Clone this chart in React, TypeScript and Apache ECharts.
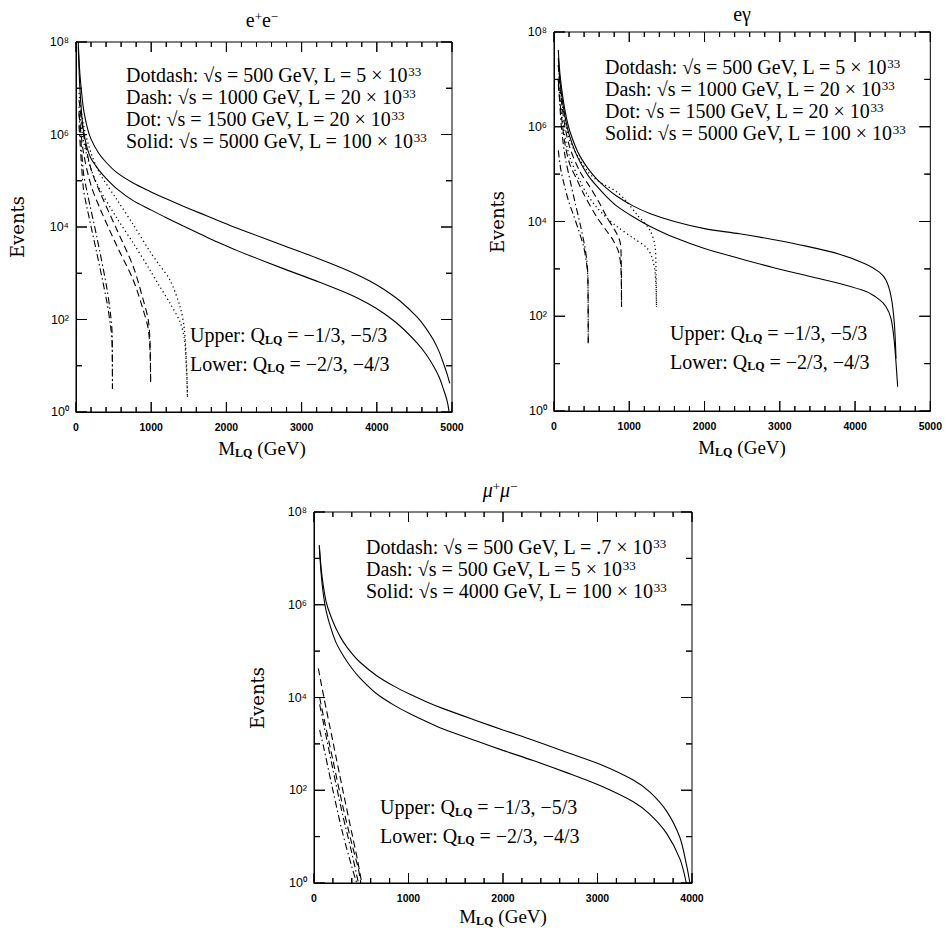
import React, { useEffect, useRef } from 'react';
import * as echarts from 'echarts';

type Pt = [number, number];

// Axis ranges (M_LQ in GeV; Events shown as log10 exponent)
const eeXMax = 5000;
const egXMax = 5000;
const mmXMax = 4000;
const xStep = 1000;
const xMinorStep = 200;
const yExpMax = 8;
const yExpStep = 2;
const yMinorStep = 1;
const SUP = ['\u2070', '\u00b9', '\u00b2', '\u00b3', '\u2074', '\u2075', '\u2076', '\u2077', '\u2078'];

// ---------- e+e- panel : [M_LQ (GeV), log10(Events)] ----------
const eeSolidUpper: Pt[] = [[30,8.0],[50,7.35],[75,6.9],[100,6.55],[150,6.15],[200,5.9],[300,5.6],[400,5.4],[540,5.18],[760,4.95],[984,4.77],[1200,4.61],[1427,4.45],[1650,4.3],[1871,4.15],[2100,4.0],[2314,3.87],[2757,3.6],[3201,3.33],[3644,3.04],[3900,2.84],[4087,2.66],[4309,2.4],[4531,2.06],[4650,1.82],[4752,1.56],[4830,1.3],[4885,1.06],[4935,0.82],[4970,0.62]];
const eeSolidLower: Pt[] = [[30,7.9],[50,7.05],[75,6.45],[100,6.08],[150,5.7],[200,5.48],[300,5.24],[400,5.05],[540,4.83],[760,4.57],[984,4.38],[1200,4.2],[1427,4.02],[1650,3.85],[1871,3.68],[2100,3.52],[2314,3.38],[2757,3.1],[3201,2.83],[3644,2.54],[3900,2.33],[4087,2.14],[4309,1.86],[4531,1.5],[4650,1.26],[4752,1.0],[4830,0.75],[4885,0.5],[4935,0.24],[4960,0.02]];
const eeDotUpper: Pt[] = [[40,6.9],[100,6.2],[200,5.6],[319,5.15],[541,4.6],[762,4.05],[984,3.47],[1100,3.2],[1250,2.85],[1383,2.28],[1440,1.8],[1470,1.0],[1482,0.33]];
const eeDotLower: Pt[] = [[40,6.6],[100,5.85],[200,5.25],[319,4.8],[541,4.2],[762,3.65],[984,3.07],[1100,2.75],[1250,2.35],[1383,1.95],[1440,1.6],[1470,0.9],[1482,0.33]];
const eeDashUpper: Pt[] = [[40,6.75],[100,6.0],[200,5.25],[319,4.75],[541,3.95],[762,3.14],[895,2.42],[960,2.0],[985,1.5],[992,0.65]];
const eeDashLower: Pt[] = [[40,6.45],[100,5.6],[200,4.9],[319,4.4],[541,3.6],[762,2.85],[895,2.2],[960,1.8],[985,1.3],[992,0.65]];
const eeDotdashUpper: Pt[] = [[40,6.5],[97,5.2],[142,4.8],[275,3.8],[408,2.7],[460,2.1],[480,1.7],[485,0.5]];
const eeDotdashLower: Pt[] = [[40,6.2],[97,4.85],[142,4.45],[275,3.45],[408,2.4],[460,1.85],[480,1.5],[485,0.5]];

// ---------- e gamma panel ----------
const egSolidUpper: Pt[] = [[57,7.62],[80,7.1],[124,6.55],[170,6.15],[212,5.9],[280,5.6],[345,5.38],[450,5.12],[566,4.9],[700,4.7],[831,4.54],[1050,4.33],[1273,4.17],[1600,4.0],[2000,3.85],[2466,3.74],[2908,3.62],[3351,3.48],[3793,3.31],[4147,3.1],[4323,2.93],[4412,2.76],[4478,2.42],[4522,1.85],[4544,1.11]];
const egSolidLower: Pt[] = [[57,7.45],[80,6.95],[124,6.42],[170,6.03],[212,5.78],[280,5.48],[345,5.26],[450,4.98],[566,4.75],[700,4.52],[831,4.33],[1050,4.1],[1273,3.9],[1600,3.66],[2000,3.43],[2466,3.22],[2908,3.03],[3351,2.86],[3793,2.69],[4147,2.52],[4323,2.35],[4412,2.2],[4478,1.95],[4522,1.45],[4566,0.51]];
const egDotUpper: Pt[] = [[57,7.3],[100,6.6],[150,6.1],[212,5.7],[345,5.3],[450,5.05],[566,4.88],[700,4.75],[831,4.63],[950,4.45],[1100,4.15],[1273,3.82],[1340,3.5],[1355,3.0],[1362,2.2]];
const egDotLower: Pt[] = [[57,7.0],[100,6.3],[150,5.75],[212,5.35],[345,4.85],[450,4.55],[566,4.3],[700,4.08],[831,3.9],[1052,3.65],[1229,3.45],[1300,3.25],[1345,2.9],[1362,2.2]];
const egDashUpper: Pt[] = [[57,7.3],[80,6.8],[110,6.4],[146,6.0],[212,5.55],[345,5.05],[477,4.73],[600,4.4],[699,4.1],[831,3.75],[880,3.55],[893,3.2],[897,2.2]];
const egDashLower: Pt[] = [[57,6.9],[100,6.2],[150,5.6],[212,5.2],[300,4.9],[389,4.6],[566,4.1],[700,3.8],[787,3.6],[860,3.35],[890,3.0],[897,2.2]];
const egDotdashUpper: Pt[] = [[57,7.0],[80,6.4],[102,5.93],[150,5.35],[212,4.88],[280,4.4],[345,3.96],[400,3.55],[434,3.2],[450,2.85],[455,1.43]];
const egDotdashLower: Pt[] = [[57,5.5],[90,5.1],[124,4.85],[190,4.45],[256,4.15],[320,3.85],[389,3.5],[430,3.15],[450,2.8],[455,1.43]];

// ---------- mu+ mu- panel ----------
const mmSolidUpper: Pt[] = [[56,7.29],[75,6.8],[99,6.4],[130,6.05],[169,5.8],[230,5.5],[310,5.2],[400,4.95],[487,4.76],[663,4.47],[850,4.24],[1016,4.07],[1200,3.9],[1368,3.76],[1721,3.5],[2000,3.3],[2320,3.08],[2673,2.82],[3026,2.56],[3378,2.22],[3555,1.96],[3731,1.55],[3872,0.98],[3943,0.38],[3978,0.0]];
const mmSolidLower: Pt[] = [[56,7.25],[75,6.68],[99,6.22],[130,5.85],[169,5.56],[230,5.2],[310,4.9],[400,4.63],[487,4.42],[663,4.08],[850,3.83],[1016,3.65],[1200,3.47],[1368,3.32],[1721,3.06],[2000,2.86],[2320,2.64],[2673,2.38],[3026,2.1],[3378,1.75],[3555,1.48],[3731,1.07],[3872,0.52],[3940,0.0]];
const mmDashUpper: Pt[] = [[46,4.63],[100,4.05],[200,3.05],[300,2.05],[400,1.08],[460,0.5],[505,0.0]];
const mmDashLower: Pt[] = [[60,4.0],[100,3.6],[200,2.65],[300,1.7],[400,0.85],[470,0.3],[495,0.0]];
const mmDotdashUpper: Pt[] = [[60,3.85],[100,3.45],[200,2.45],[300,1.5],[400,0.65],[470,0.0]];
const mmDotdashLower: Pt[] = [[60,3.3],[100,2.95],[200,2.0],[300,1.1],[400,0.35],[452,0.0]];

// ---------- texts ----------
const eeTitle = '{n|e}{p|+}{n|e}{p|\u2212}';
const egTitle = '{n|e\u03b3}';
const mmTitle = '{i|\u03bc}{p|+}{i|\u03bc}{p|\u2212}';
const eeLegend = [
  'Dotdash: \u221as = 500 GeV, L = 5 \u00d7 10{p|33}',
  'Dash: \u221as = 1000 GeV, L = 20 \u00d7 10{p|33}',
  'Dot: \u221as = 1500 GeV, L = 20 \u00d7 10{p|33}',
  'Solid: \u221as = 5000 GeV, L = 100 \u00d7 10{p|33}',
];
const egLegend = eeLegend;
const mmLegend = [
  'Dotdash: \u221as = 500 GeV, L = .7 \u00d7 10{p|33}',
  'Dash: \u221as = 500 GeV, L = 5 \u00d7 10{p|33}',
  'Solid: \u221as = 4000 GeV, L = 100 \u00d7 10{p|33}',
];
const chargeNotes = [
  'Upper: Q{q|LQ}{r|= \u22121/3, \u22125/3}',
  'Lower: Q{q|LQ}{r|= \u22122/3, \u22124/3}',
];
const xName = '{m|M}{q|LQ}{g|(GeV)}';
const yName = 'Events';

const SERIF = 'Liberation Serif, Times New Roman, serif';
const SANS = 'Liberation Sans, Arial, sans-serif';

const rich: any = {
  n: { fontFamily: SERIF, fontSize: 20, lineHeight: 21 },
  i: { fontFamily: SERIF, fontSize: 20, lineHeight: 21, fontStyle: 'italic' },
  p: { fontFamily: SERIF, fontSize: 13, lineHeight: 10, verticalAlign: 'top' },
  q: { fontFamily: SERIF, fontSize: 12, fontWeight: 'bold', lineHeight: 9, verticalAlign: 'bottom' },
  r: { fontFamily: SERIF, fontSize: 20, lineHeight: 21, padding: [0, 0, 0, 5] },
  m: { fontFamily: SERIF, fontSize: 19, lineHeight: 21 },
  g: { fontFamily: SERIF, fontSize: 19, lineHeight: 21, padding: [0, 0, 0, 5] },
};

const DASH: Record<string, any> = {
  solid: 'solid',
  dash: [7, 4],
  dot: [1.2, 3],
  dotdash: [7, 3, 1.5, 3],
};

const layout = [
  { left: 76, top: 42, width: 376, height: 370, xMax: eeXMax,
    title: [262, 20], legend: [126, 75], notes: [190, 335], ev: [17, 227], xn: [262, 448] },
  { left: 554, top: 32, width: 377, height: 379, xMax: egXMax,
    title: [742, 14], legend: [605, 67], notes: [670, 333], ev: [497, 222], xn: [742, 447] },
  { left: 314, top: 512, width: 378, height: 371, xMax: mmXMax,
    title: [500, 490], legend: [366, 547], notes: [380, 807], ev: [257, 698], xn: [503, 916] },
];

const seriesSpec: [number, Pt[], string][] = [
  [0, eeSolidUpper, 'solid'], [0, eeSolidLower, 'solid'],
  [0, eeDotUpper, 'dot'], [0, eeDotLower, 'dot'],
  [0, eeDashUpper, 'dash'], [0, eeDashLower, 'dash'],
  [0, eeDotdashUpper, 'dotdash'], [0, eeDotdashLower, 'dotdash'],
  [1, egSolidUpper, 'solid'], [1, egSolidLower, 'solid'],
  [1, egDotUpper, 'dot'], [1, egDotLower, 'dot'],
  [1, egDashUpper, 'dash'], [1, egDashLower, 'dash'],
  [1, egDotdashUpper, 'dotdash'], [1, egDotdashLower, 'dotdash'],
  [2, mmSolidUpper, 'solid'], [2, mmSolidLower, 'solid'],
  [2, mmDashUpper, 'dash'], [2, mmDashLower, 'dash'],
  [2, mmDotdashUpper, 'dotdash'], [2, mmDotdashLower, 'dotdash'],
];

// tick values with a major flag
function xTickVals(xMax: number): [number, boolean][] {
  const out: [number, boolean][] = [];
  for (let v = 0; v <= xMax; v += xMinorStep) out.push([v, v % xStep === 0]);
  return out;
}
function yTickVals(): [number, boolean][] {
  const out: [number, boolean][] = [];
  for (let v = 0; v <= yExpMax; v += yMinorStep) out.push([v, v % yExpStep === 0]);
  return out;
}

function buildOption() {
  const grids: any[] = [];
  const xAxes: any[] = [];
  const yAxes: any[] = [];
  layout.forEach((p, gi) => {
    grids.push({ left: p.left, top: p.top, width: p.width, height: p.height });
    xAxes.push({
      type: 'value', gridIndex: gi, min: 0, max: p.xMax, interval: xStep,
      axisLine: { show: true, onZero: false, lineStyle: { color: '#000' } },
      axisTick: { show: false },
      minorTick: { show: false },
      splitLine: { show: false },
      axisLabel: {
        margin: 9, color: '#000', fontSize: 10.5, fontWeight: 'bold', fontFamily: SANS,
        formatter: (v: number) => String(v),
      },
    });
    yAxes.push({
      type: 'value', gridIndex: gi, min: 0, max: yExpMax, interval: yExpStep,
      axisLine: { show: true, onZero: false, lineStyle: { color: '#000' } },
      axisTick: { show: false },
      minorTick: { show: false },
      splitLine: { show: false },
      axisLabel: {
        margin: 7, color: '#000', fontSize: 12.5, fontFamily: SANS,
        formatter: (v: number) => '10' + SUP[v],
      },
    });
  });

  const series: any[] = seriesSpec.map(([gi, data, kind]) => ({
    type: 'line', xAxisIndex: gi, yAxisIndex: gi,
    data, showSymbol: false, symbol: 'none', smooth: 0.3,
    lineStyle: { color: '#000', width: kind === 'dot' ? 1.3 : 1.1, type: DASH[kind] },
  }));

  // frame edges with inward ticks on all four sides, each edge drawn as one polyline
  // whose tick positions come from the grid's own scales
  layout.forEach((p, gi) => {
    series.push({
      type: 'custom', xAxisIndex: gi, yAxisIndex: gi, clip: false, z: 10,
      data: [[0, 0]],
      renderItem: (_params: any, api: any) => {
        const bottom: number[][] = [];
        const top: number[][] = [];
        const left: number[][] = [];
        const right: number[][] = [];
        xTickVals(p.xMax).forEach(([v, major]) => {
          const b = api.coord([v, 0]);
          const t = api.coord([v, yExpMax]);
          const len = major ? 10 : 5;
          bottom.push([b[0], b[1]], [b[0], b[1] - len], [b[0], b[1]]);
          top.push([t[0], t[1]], [t[0], t[1] + len], [t[0], t[1]]);
        });
        yTickVals().forEach(([v, major]) => {
          const l = api.coord([0, v]);
          const r = api.coord([p.xMax, v]);
          const len = major ? 11 : 6;
          left.push([l[0], l[1]], [l[0] + len, l[1]], [l[0], l[1]]);
          right.push([r[0], r[1]], [r[0] - len, r[1]], [r[0], r[1]]);
        });
        return {
          type: 'group',
          children: [bottom, top, left, right].map((pts) => ({
            type: 'polyline',
            shape: { points: pts },
            style: { stroke: '#000', lineWidth: 1, fill: 'none', lineJoin: 'bevel' },
          })),
        };
      },
    });
  });

  const text = (x: number, y: number, t: string, extra: any = {}) => ({
    type: 'text', x, y,
    style: {
      text: t, fill: '#000', fontFamily: SERIF, fontSize: 20, lineHeight: 21,
      align: 'left', verticalAlign: 'middle', rich, ...(extra.style || {}),
    },
  });

  const graphics: any[] = [];
  const titles = [eeTitle, egTitle, mmTitle];
  const legends = [eeLegend, egLegend, mmLegend];
  layout.forEach((p, gi) => {
    graphics.push(text(p.title[0], p.title[1], titles[gi], { style: { align: 'center' } }));
    legends[gi].forEach((l, li) => graphics.push(text(p.legend[0], p.legend[1] + li * 22, l)));
    chargeNotes.forEach((l, li) => graphics.push(text(p.notes[0], p.notes[1] + li * 28.5, l)));
    graphics.push({
      type: 'text', x: p.ev[0], y: p.ev[1], rotation: Math.PI / 2,
      style: { text: yName, fill: '#000', fontFamily: 'DejaVu Serif, serif', fontSize: 18, align: 'center', verticalAlign: 'middle' },
    });
    graphics.push(text(p.xn[0], p.xn[1], xName, { style: { align: 'center' } }));
  });

  return {
    animation: false,
    backgroundColor: '#fff',
    grid: grids,
    xAxis: xAxes,
    yAxis: yAxes,
    series,
    graphic: graphics,
  };
}

export default function App() {
  const ref = useRef<HTMLDivElement>(null);
  useEffect(() => {
    if (!ref.current) return;
    const chart = echarts.init(ref.current, undefined, { renderer: 'svg' });
    chart.setOption(buildOption() as any);
    return () => chart.dispose();
  }, []);
  return (
    <div
      ref={ref}
      style={{ position: 'absolute', left: 0, top: 0, width: 945, height: 930, background: '#fff' }}
    />
  );
}
